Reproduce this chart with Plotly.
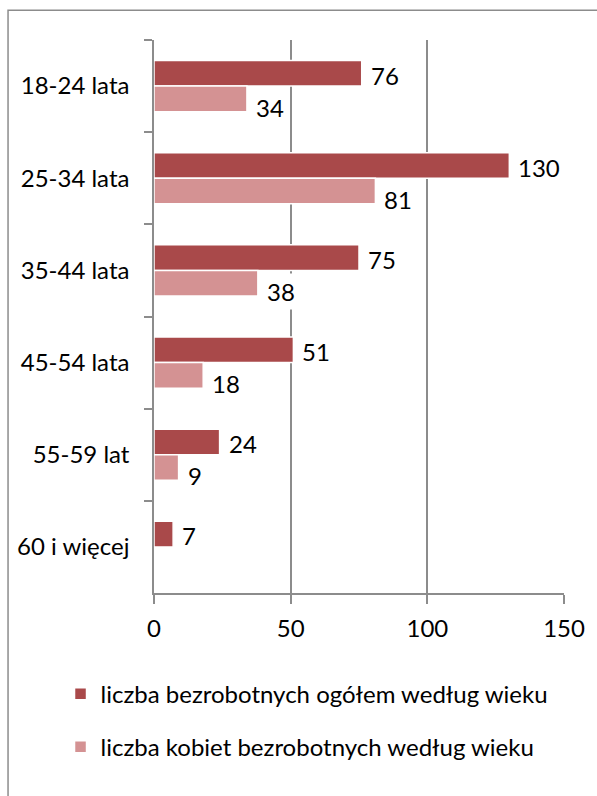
import plotly.graph_objects as go

categories = ["18-24 lata", "25-34 lata", "35-44 lata", "45-54 lata", "55-59 lat", "60 i więcej"]
series_total_name = "liczba bezrobotnych ogółem według wieku"
series_women_name = "liczba kobiet bezrobotnych według wieku"
total_values = [76, 130, 75, 51, 24, 7]
women_values = [34, 81, 38, 18, 9, None]
x_ticks = [0, 50, 100, 150]

DARK = "#A9494A"
LIGHT = "#D49293"
GRID = "#8C8C8C"
FONT = "Lato"
FS = 24

fig = go.Figure()
fig.add_trace(go.Bar(
    y=categories, x=total_values, orientation="h", name=series_total_name,
    marker=dict(color=DARK, line=dict(color="white", width=1.5)),
    legendgroup="a",
))
fig.add_trace(go.Bar(
    y=categories, x=women_values, orientation="h", name=series_women_name,
    marker=dict(color=LIGHT, line=dict(color="white", width=1.5)),
    legendgroup="b",
))

# value labels with white background
for vals, shift in ((total_values, 11), (women_values, -21)):
    for cat, v in zip(categories, vals):
        if v is None:
            continue
        fig.add_annotation(
            x=v, y=cat, xref="x", yref="y", text=str(v), showarrow=False,
            xanchor="left", yanchor="middle", xshift=5, yshift=shift,
            bgcolor="white", borderpad=3,
            font=dict(family=FONT, size=FS, color="black"),
        )

# outer chart border
fig.add_shape(type="rect", xref="paper", yref="paper",
              x0=-0.356, x1=1.2, y0=-0.6, y1=1.054,
              line=dict(color=GRID, width=1.5), fillcolor="rgba(0,0,0,0)", layer="below")

fig.update_layout(
    width=597, height=796,
    margin=dict(l=154, r=29, t=40, b=203),
    paper_bgcolor="white", plot_bgcolor="white",
    barmode="group", bargap=0.445, bargroupgap=0.0,
    font=dict(family=FONT, size=FS, color="black"),
    showlegend=True,
    legend=dict(
        orientation="v", x=-0.228, xanchor="left", y=-0.142, yanchor="top",
        font=dict(family=FONT, size=FS, color="black"),
        tracegroupgap=19, bgcolor="rgba(0,0,0,0)",
    ),
    xaxis=dict(
        range=[0, 150], tickvals=x_ticks, ticktext=[str(t) for t in x_ticks],
        showgrid=True, gridcolor=GRID, gridwidth=1.5,
        showline=True, linecolor=GRID, linewidth=1.5,
        ticks="outside", ticklen=9, tickcolor=GRID, tickwidth=1.5,
        ticklabelstandoff=4, zeroline=False, fixedrange=True,
        tickfont=dict(family=FONT, size=FS, color="black"),
    ),
    yaxis=dict(
        categoryorder="array", categoryarray=categories, autorange="reversed",
        showgrid=False, showline=True, linecolor=GRID, linewidth=1.5,
        ticks="outside", ticklen=8, tickcolor=GRID, tickwidth=1.5,
        tickson="boundaries", ticklabelstandoff=18, fixedrange=True,
        tickfont=dict(family=FONT, size=FS, color="black"),
    ),
)

fig.write_html("out.html", config={"displayModeBar": False},
               post_script="document.body.style.margin='0';")
